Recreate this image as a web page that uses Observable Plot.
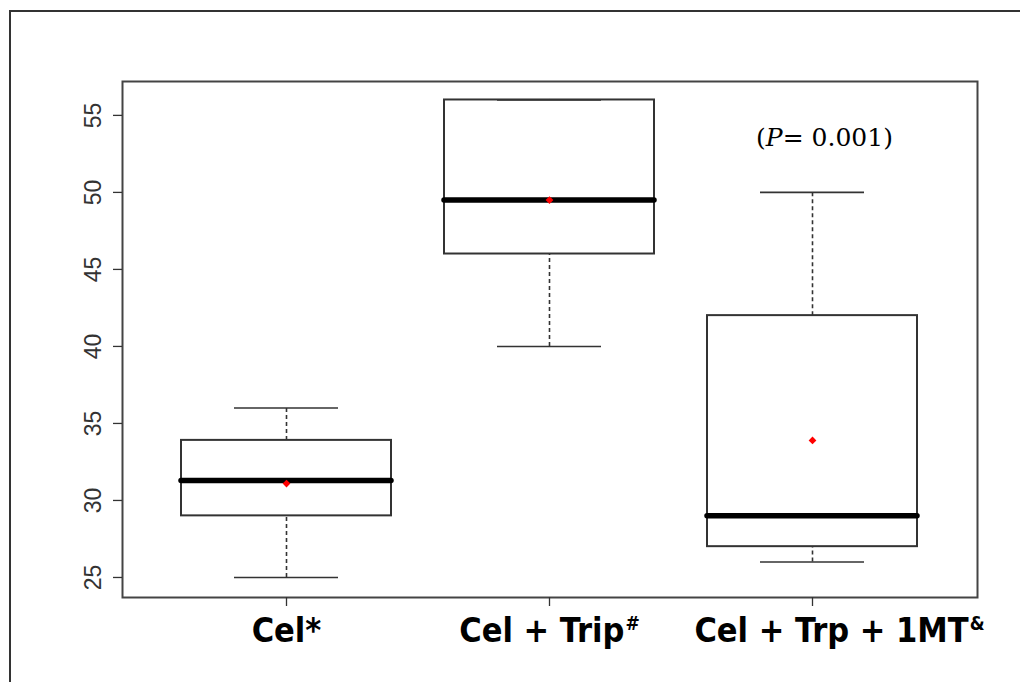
<!DOCTYPE html>
<html>
<head>
<meta charset="utf-8">
<script src="https://cdn.jsdelivr.net/npm/d3@7"></script>
<script src="https://cdn.jsdelivr.net/npm/@observablehq/plot@0.6"></script>
<style>
  html, body { margin: 0; padding: 0; background: #fff; overflow: hidden; }
  #wrap { position: relative; width: 1020px; height: 682px; }
  #outer { position: absolute; left: 9px; top: 10px; width: 1100px; height: 800px;
           border-left: 2px solid #333; border-top: 2px solid #333; pointer-events: none; }
</style>
</head>
<body>
<div id="wrap"><div id="chart"></div><div id="outer"></div></div>
<script>
// ---- data ----
const groups      = ["Cel*", "Cel + Trip#", "Cel + Trp + 1MT&"];
const supChars    = ["", "#", "&"];
const whiskerLow  = [25, 40, 26];
const q1          = [29, 46, 27];
const median      = [31.3, 49.5, 29];
const q3          = [33.9, 56, 42];
const whiskerHigh = [36, 56, 50];
const mean        = [31.1, 49.5, 33.9];
const yTicks      = [25, 30, 35, 40, 45, 50, 55];
const pGroup      = "Cel + Trp + 1MT&";
const pY          = 53.5;
const pText       = "(P= 0.001)";

const rows = groups.map((g, i) => ({
  group: g, lo: whiskerLow[i], q1: q1[i], med: median[i], q3: q3[i], hi: whiskerHigh[i], mean: mean[i]
}));
const annotation = [{group: pGroup, y: pY, label: pText}];

const ink = "#333";
const labelFont = "'DejaVu Sans Condensed', 'DejaVu Sans', sans-serif";

const plot = Plot.plot({
  width: 1020,
  height: 682,
  marginLeft: 122,
  marginRight: 43,
  marginTop: 81,
  marginBottom: 85,
  style: {background: "transparent", color: ink},
  x: {type: "band", domain: groups, paddingInner: 0.2, paddingOuter: 0.22, axis: null},
  y: {domain: [23.7, 57.2], axis: null},
  marks: [
    Plot.frame({stroke: "#444", strokeWidth: 2}),
    Plot.axisY({ticks: yTicks, tickSize: 9, tickFormat: () => "", label: null, stroke: ink, strokeWidth: 1.3}),
    Plot.axisX({tickSize: 9, tickFormat: () => "", label: null, stroke: ink, strokeWidth: 1.3}),
    // whiskers (dashed)
    Plot.ruleX(rows, {x: "group", y1: "q3", y2: "hi", stroke: ink, strokeWidth: 1.6, strokeDasharray: "4,3"}),
    Plot.ruleX(rows, {x: "group", y1: "lo", y2: "q1", stroke: ink, strokeWidth: 1.6, strokeDasharray: "4,3"}),
    // whisker caps
    Plot.tickY(rows, {x: "group", y: "hi", stroke: ink, strokeWidth: 1.6, insetLeft: 53, insetRight: 53}),
    Plot.tickY(rows, {x: "group", y: "lo", stroke: ink, strokeWidth: 1.6, insetLeft: 53, insetRight: 53}),
    // boxes
    Plot.barY(rows, {x: "group", y1: "q1", y2: "q3", fill: "none", stroke: ink, strokeWidth: 2}),
    // medians
    Plot.tickY(rows, {x: "group", y: "med", stroke: "#000", strokeWidth: 5.5, strokeLinecap: "round"}),
    // means
    Plot.dot(rows, {x: "group", y: "mean", r: 3.5, fill: "red", stroke: "none", symbol: "diamond2"}),
    // y tick labels (rotated, R style)
    Plot.text(yTicks, {y: d => d, text: d => String(d), frameAnchor: "left", dx: -29, rotate: -90,
      textAnchor: "middle", lineAnchor: "middle", fontSize: 23, fontFamily: "'Liberation Sans', Arial, sans-serif", fill: ink}),
    // x labels
    Plot.text(groups, {x: d => d, text: d => d, filter: (d, i) => i < 2, frameAnchor: "bottom", dy: 34,
      lineAnchor: "middle", textAnchor: "middle", fontSize: 34, fontWeight: "bold", fontFamily: labelFont, fill: "#000"}),
    Plot.text(groups, {x: d => d, text: d => d, filter: (d, i) => i === 2, frameAnchor: "bottom", dy: 34, dx: 27,
      lineAnchor: "middle", textAnchor: "middle", fontSize: 34, fontWeight: "bold", fontFamily: labelFont, fill: "#000"}),
    // p-value annotation
    Plot.text(annotation, {x: "group", y: "y", text: "label", dx: 12, lineAnchor: "middle", textAnchor: "middle",
      fontSize: 25, fontFamily: "'DejaVu Serif', 'Liberation Serif', serif", fill: "#000"})
  ]
});

// post-process: superscripts, condensed labels, italic P
const NS = "http://www.w3.org/2000/svg";
plot.querySelectorAll("text").forEach(t => {
  const s = t.textContent;
  const gi = groups.indexOf(s);
  if (gi >= 0) {
    t.style.fontStretch = "condensed";
    const sup = supChars[gi];
    if (sup) {
      t.textContent = s.slice(0, s.length - sup.length);
      const ts = document.createElementNS(NS, "tspan");
      ts.setAttribute("font-size", "19");
      ts.setAttribute("dy", "-12");
      ts.setAttribute("dx", "1");
      ts.textContent = sup;
      t.appendChild(ts);
    }
  } else if (s === pText) {
    t.textContent = "";
    const a = document.createElementNS(NS, "tspan"); a.textContent = "(";
    const b = document.createElementNS(NS, "tspan"); b.textContent = "P"; b.setAttribute("font-style", "italic");
    const c = document.createElementNS(NS, "tspan"); c.textContent = "= 0.001)";
    t.appendChild(a); t.appendChild(b); t.appendChild(c);
  }
});

document.getElementById("chart").appendChild(plot);
</script>
</body>
</html>
